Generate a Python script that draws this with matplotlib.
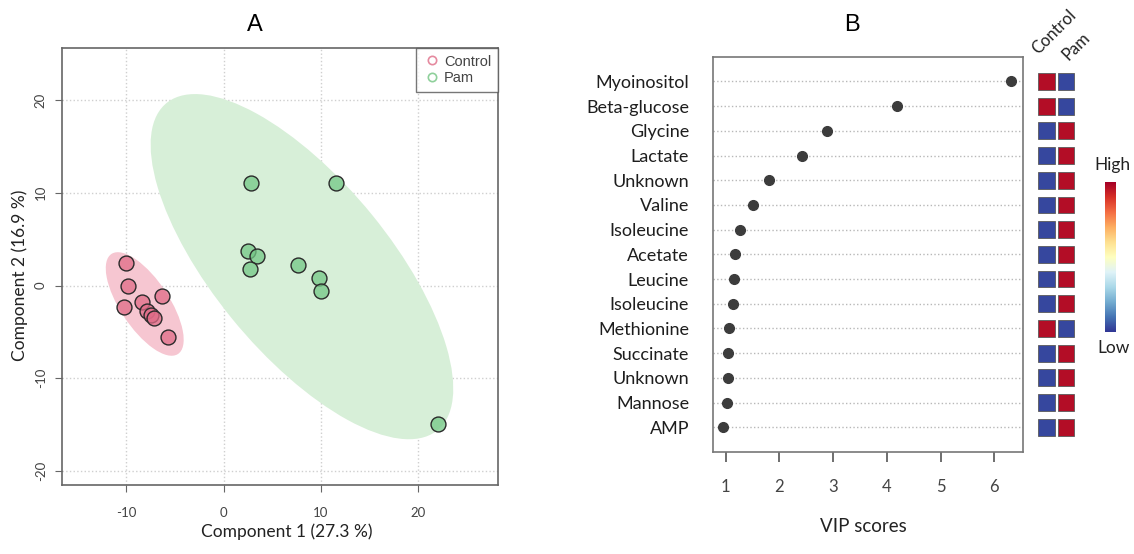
import numpy as np
import matplotlib
matplotlib.use('Agg')
import matplotlib.pyplot as plt
from matplotlib.patches import Ellipse
from matplotlib.lines import Line2D

plt.rcParams['axes.unicode_minus'] = False

# ---- données panneau A (scores PLS-DA) ----
control_x = [-10.0, -9.8, -10.2, -8.4, -7.9, -7.5, -7.1, -6.3, -5.7]
control_y = [2.4, 0.0, -2.3, -1.8, -2.8, -3.2, -3.5, -1.1, -5.6]
pam_x = [2.8, 11.6, 2.5, 3.4, 2.7, 7.7, 9.8, 10.0, 22.0]
pam_y = [11.1, 11.0, 3.7, 3.2, 1.8, 2.2, 0.8, -0.6, -14.9]

# ---- données panneau B (VIP) ----
metabolites = ['Myoinositol', 'Beta-glucose', 'Glycine', 'Lactate', 'Unknown', 'Valine',
               'Isoleucine', 'Acetate', 'Leucine', 'Isoleucine', 'Methionine', 'Succinate',
               'Unknown', 'Mannose', 'AMP']
vip = [6.32, 4.19, 2.88, 2.42, 1.81, 1.50, 1.27, 1.18, 1.155, 1.13, 1.07, 1.04, 1.04, 1.03, 0.955]
heat_control = [1, 1, 0, 0, 0, 0, 0, 0, 0, 0, 1, 0, 0, 0, 0]  # 1 = high, 0 = low
heat_pam = [0, 0, 1, 1, 1, 1, 1, 1, 1, 1, 0, 1, 1, 1, 1]
groups = ['Control', 'Pam']

W, H = 1134, 554
fig = plt.figure(figsize=(W / 100, H / 100), dpi=100)


def box(l, t, r, b):
    return [l / W, 1 - b / H, (r - l) / W, (b - t) / H]


calibri = ['Lato', 'DejaVu Sans']
arial = ['Liberation Sans', 'DejaVu Sans']

# ================= Panneau A =================
ax = fig.add_axes(box(62, 48, 498, 485))
chi = -2 * np.log(0.05)


def conf_ellipse(x, y, color):
    x = np.array(x)
    y = np.array(y)
    cov = np.cov(x, y)
    vals, vecs = np.linalg.eigh(cov)
    order = vals.argsort()[::-1]
    vals, vecs = vals[order], vecs[:, order]
    angle = np.degrees(np.arctan2(vecs[1, 0], vecs[0, 0]))
    e = Ellipse((x.mean(), y.mean()), 2 * np.sqrt(chi * vals[0]), 2 * np.sqrt(chi * vals[1]),
                angle=angle, facecolor=color, edgecolor='none', zorder=1)
    ax.add_patch(e)


conf_ellipse(control_x, control_y, '#f6c6d1')
conf_ellipse(pam_x, pam_y, '#d7efd8')
ax.scatter(control_x, control_y, s=115, facecolor=(0.88, 0.42, 0.53, 0.75),
           edgecolor='#2a2a2a', linewidth=1, zorder=3)
ax.scatter(pam_x, pam_y, s=115, facecolor=(0.45, 0.78, 0.52, 0.75),
           edgecolor='#2a2a2a', linewidth=1, zorder=3)

ax.set_xlim(-16.6, 28.2)
ax.set_ylim(-21.5, 25.6)
ax.set_xticks([-10, 0, 10, 20])
ax.set_yticks([-20, -10, 0, 10, 20])
ax.grid(True, linestyle=':', color='#cfcfcf', linewidth=1)
ax.set_axisbelow(True)
for s in ax.spines.values():
    s.set_color('#666666')
    s.set_linewidth(1.2)
ax.tick_params(direction='out', length=5, color='#666666', labelcolor='#444444')
ax.tick_params(axis='x', pad=11)
ax.tick_params(axis='y', pad=6)
for lab in ax.get_xticklabels():
    lab.set_fontfamily(calibri)
    lab.set_fontsize(9.5)
for lab in ax.get_yticklabels():
    lab.set_fontfamily(calibri)
    lab.set_fontsize(9.5)
    lab.set_rotation(90)
    lab.set_va('center')

ax.set_xlabel('Component 1 (27.3 %)', fontsize=12.5, family=calibri, color='#222222', va='center')
ax.xaxis.set_label_coords(0.516, -0.1075)
ax.set_ylabel('Component 2 (16.9 %)', fontsize=12.5, family=calibri, color='#222222', va='center')
ax.yaxis.set_label_coords(-0.0963, 0.48)

handles = [Line2D([], [], marker='o', linestyle='none', mfc='none', mec='#e58a9f', ms=6, mew=1.2),
           Line2D([], [], marker='o', linestyle='none', mfc='none', mec='#8fd09b', ms=6, mew=1.2)]
leg = ax.legend(handles, groups, loc='upper right', borderaxespad=0, fancybox=False,
                prop={'family': arial, 'size': 10.5}, handletextpad=0.2, handlelength=1.3,
                labelspacing=0.2, borderpad=0.45, labelcolor='#444444')
leg.get_frame().set_edgecolor('#555555')
leg.get_frame().set_linewidth(1)

fig.text(255 / W, 1 - 25 / H, 'A', fontsize=17, family=arial, ha='center', va='center')

# ================= Panneau B =================
bx = fig.add_axes(box(712.7, 56.7, 1022.7, 451.7))
rows = np.arange(len(metabolites))
bx.plot(vip, rows, 'o', color='#3c3c3c', ms=7, zorder=3)
bx.set_xlim(0.758, 6.53)
bx.set_ylim(14.99, -1.0)
bx.set_yticks(rows)
bx.set_yticklabels(metabolites)
bx.grid(True, axis='y', linestyle=':', color='#b8b8b8', linewidth=1)
bx.set_xticks([1, 2, 3, 4, 5, 6])
for s in bx.spines.values():
    s.set_color('#777777')
    s.set_linewidth(1.2)
bx.tick_params(axis='y', length=0, pad=17, labelsize=13, labelcolor='#1e1e1e')
bx.tick_params(axis='x', direction='out', length=7, width=1.2, color='#555555', pad=13,
               labelsize=12, labelcolor='#444444')
for lab in bx.get_yticklabels():
    lab.set_fontfamily(calibri)
for lab in bx.get_xticklabels():
    lab.set_fontfamily(calibri)
bx.set_xlabel('VIP scores', fontsize=13.5, family=calibri, color='#222222', va='center')
bx.xaxis.set_label_coords(0.486, -0.19)

fig.text(852 / W, 1 - 25 / H, 'B', fontsize=17, family=arial, ha='center', va='center')

# carte de chaleur Control / Pam
cmap = plt.get_cmap('RdYlBu_r')
hx = fig.add_axes(box(1037, 56.7, 1075.8, 451.7))
for col, vals in enumerate([heat_control, heat_pam]):
    hx.barh(rows, 0.86, left=col - 0.43, height=0.68, color=[cmap(0.97 if v else 0.03) for v in vals],
            edgecolor='#5a5a5a', linewidth=0.6)
hx.set_xlim(-0.5, 1.5)
hx.set_ylim(14.99, -1.0)
hx.axis('off')

fig.text(1040 / W, 1 - 57 / H, groups[0], fontsize=12, family=calibri, rotation=45,
         rotation_mode='anchor', ha='left', va='bottom', color='#222222')
fig.text(1071 / W, 1 - 63 / H, groups[1], fontsize=12, family=calibri, rotation=45,
         rotation_mode='anchor', ha='left', va='bottom', color='#222222')

# barre de couleur
cx = fig.add_axes(box(1105, 182, 1116, 332))
cx.imshow(np.linspace(0, 1, 256).reshape(-1, 1), cmap=cmap, aspect='auto', origin='lower')
cx.axis('off')
fig.text(1112 / W, 1 - 165 / H, 'High', fontsize=12.5, family=calibri, ha='center', va='center', color='#222222')
fig.text(1114 / W, 1 - 348 / H, 'Low', fontsize=12.5, family=calibri, ha='center', va='center', color='#222222')

plt.savefig('out.png', dpi=100)
